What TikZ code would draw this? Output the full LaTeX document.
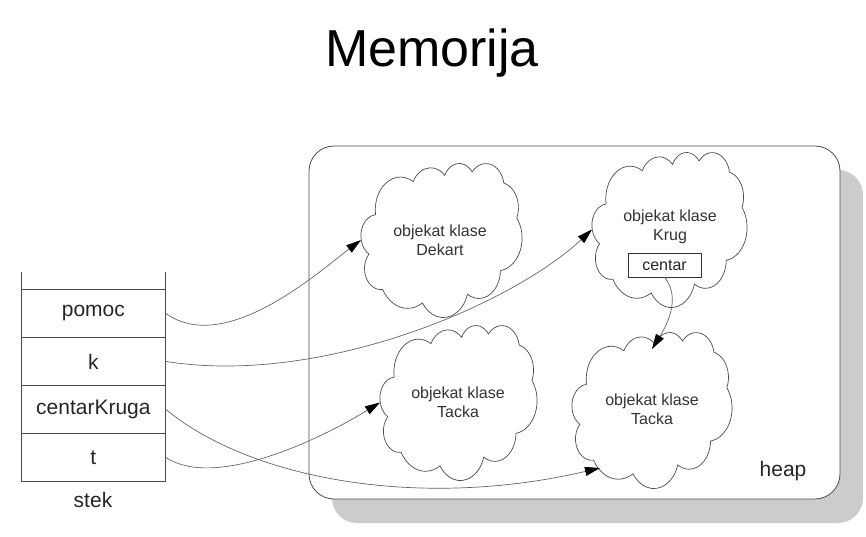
\documentclass[tikz,border=0pt]{standalone}
\usepackage{fontspec}
\setmainfont{Liberation Sans}
\usetikzlibrary{arrows.meta,shadows}
\def\cloudarcs{67.53/91.90/-190.48748/123.78053, 53.33/72.67/-144.10238/89.94523, 43.65/59.45/-145.80792/99.72302, 48.57/65.95/-130.98607/117.24173, 53.33/72.73/-78.70888/109.02692, 67.75/92.20/-46.26725/130.269, 57.85/78.67/0.62502/114.03333, 67.52/92.15/22.4516/115.17255, 77.20/105.43/66.24263/75.71102, 43.60/59.18/-274.94208/146.73557, 43.45/59.45/-246.8285/152.51885}
\newcommand\drawcloud[3]{%
  \pgfmathsetmacro\sx{#2/432}%
  \pgfmathsetmacro\sy{#3/432}%
  \begin{scope}[shift={(#1.north west)},x=\sx pt,y=-\sy pt]
  \draw[cloudline] (39,143.7) \foreach \a/\b/\c/\d in \cloudarcs {
    arc[start angle={-atan2(\a*sin(\c),\b*cos(\c))},
        delta angle={-mod(atan2(\a*sin(\c+\d),\b*cos(\c+\d))-atan2(\a*sin(\c),\b*cos(\c))+360,360)},
        x radius={\a*\sx*1pt}, y radius={\b*\sy*1pt}]
  } -- cycle;
  \end{scope}}
\begin{document}
\begin{tikzpicture}[x=1pt,y=-1pt,
  cell/.style={draw=black!70,line width=0.8pt,minimum width=144pt,minimum height=48pt,inner sep=0pt,anchor=north west,font=\fontsize{21}{25}\selectfont,text=black!85},
  cloudbox/.style={inner sep=0pt,outer sep=0pt},
  cloudline/.style={draw=black!70,line width=0.7pt,fill=white},
  objtxt/.style={align=center,font=\fontsize{16}{19}\selectfont,text=black!80},
  ptr/.style={draw=black!60,line width=0.7pt,-{Triangle[length=15pt,width=9pt,color=black]}}
]
\useasboundingbox (0,0) rectangle (866,537);
\node[font=\fontsize{52}{60}\selectfont] (title) at (432,53) {Memorija};
% heap
\node[draw=black!70,line width=0.8pt,fill=white,rounded corners=25pt,minimum width=531pt,minimum height=353pt,
  drop shadow={shadow xshift=23pt,shadow yshift=-24pt,fill=black!20,opacity=1}] (heap) at (574.5,322.5) {};
\node[font=\fontsize{21}{25}\selectfont,text=black!85] (heaplbl) at (783,471) {heap};
% stack
\node[cell] (pomoc) at (21,289) {pomoc};
\node[cell] (k) at (21,337) {k};
\node[cell] (ck) at (21,385) {centarKruga};
\node[cell] (t) at (21,433) {t};
\draw[draw=black!70,line width=0.8pt] (pomoc.north west) -- ++(0,-17);
\draw[draw=black!70,line width=0.8pt] (pomoc.north east) -- ++(0,-17);
\node[font=\fontsize{21}{25}\selectfont,text=black!85] (stek) at (93,500) {stek};
% clouds
\node[cloudbox,minimum width=161pt,minimum height=154pt] (dekart) at (441.5,240) {};
\drawcloud{dekart}{161}{154}
\node[objtxt] (dekarttxt) at (440,240) {objekat klase\\Dekart};
\node[cloudbox,minimum width=155pt,minimum height=155pt] (krug) at (669.5,229.5) {};
\drawcloud{krug}{155}{155}
\node[objtxt] (krugtxt) at (670,227) {objekat klase\\Krug};
\node[draw=black!80,line width=0.7pt,minimum width=73pt,minimum height=24pt,inner sep=0pt,font=\fontsize{16}{19}\selectfont,text=black!85] (centar) at (664.5,265) {centar};
\node[cloudbox,minimum width=157pt,minimum height=155pt] (tacka1) at (458.5,402.5) {};
\drawcloud{tacka1}{157}{155}
\node[objtxt] (tacka1txt) at (458,402) {objekat klase\\Tacka};
\node[cloudbox,minimum width=160pt,minimum height=156pt] (tacka2) at (652,410) {};
\drawcloud{tacka2}{160}{156}
\node[objtxt] (tacka2txt) at (652,409) {objekat klase\\Tacka};
% pointers
\draw[ptr] (pomoc.east) .. controls +(60,43) and +(-40,30) .. (dekart.west);
\draw[ptr] (k.east) .. controls +(155,25) and +(-80,75) .. (krug.west);
\draw[ptr] (t.east) .. controls +(50,33) and +(-57,35) .. (tacka1.west);
\draw[ptr] (ck.east) .. controls +(85,70) and +(-180,42) .. ([xshift=-52pt,yshift=-58pt]tacka2.center);
\draw[ptr] (centar.south) .. controls +(15,18) and +(18,-29) .. ([yshift=-17pt]tacka2.north);
\end{tikzpicture}
\end{document}
